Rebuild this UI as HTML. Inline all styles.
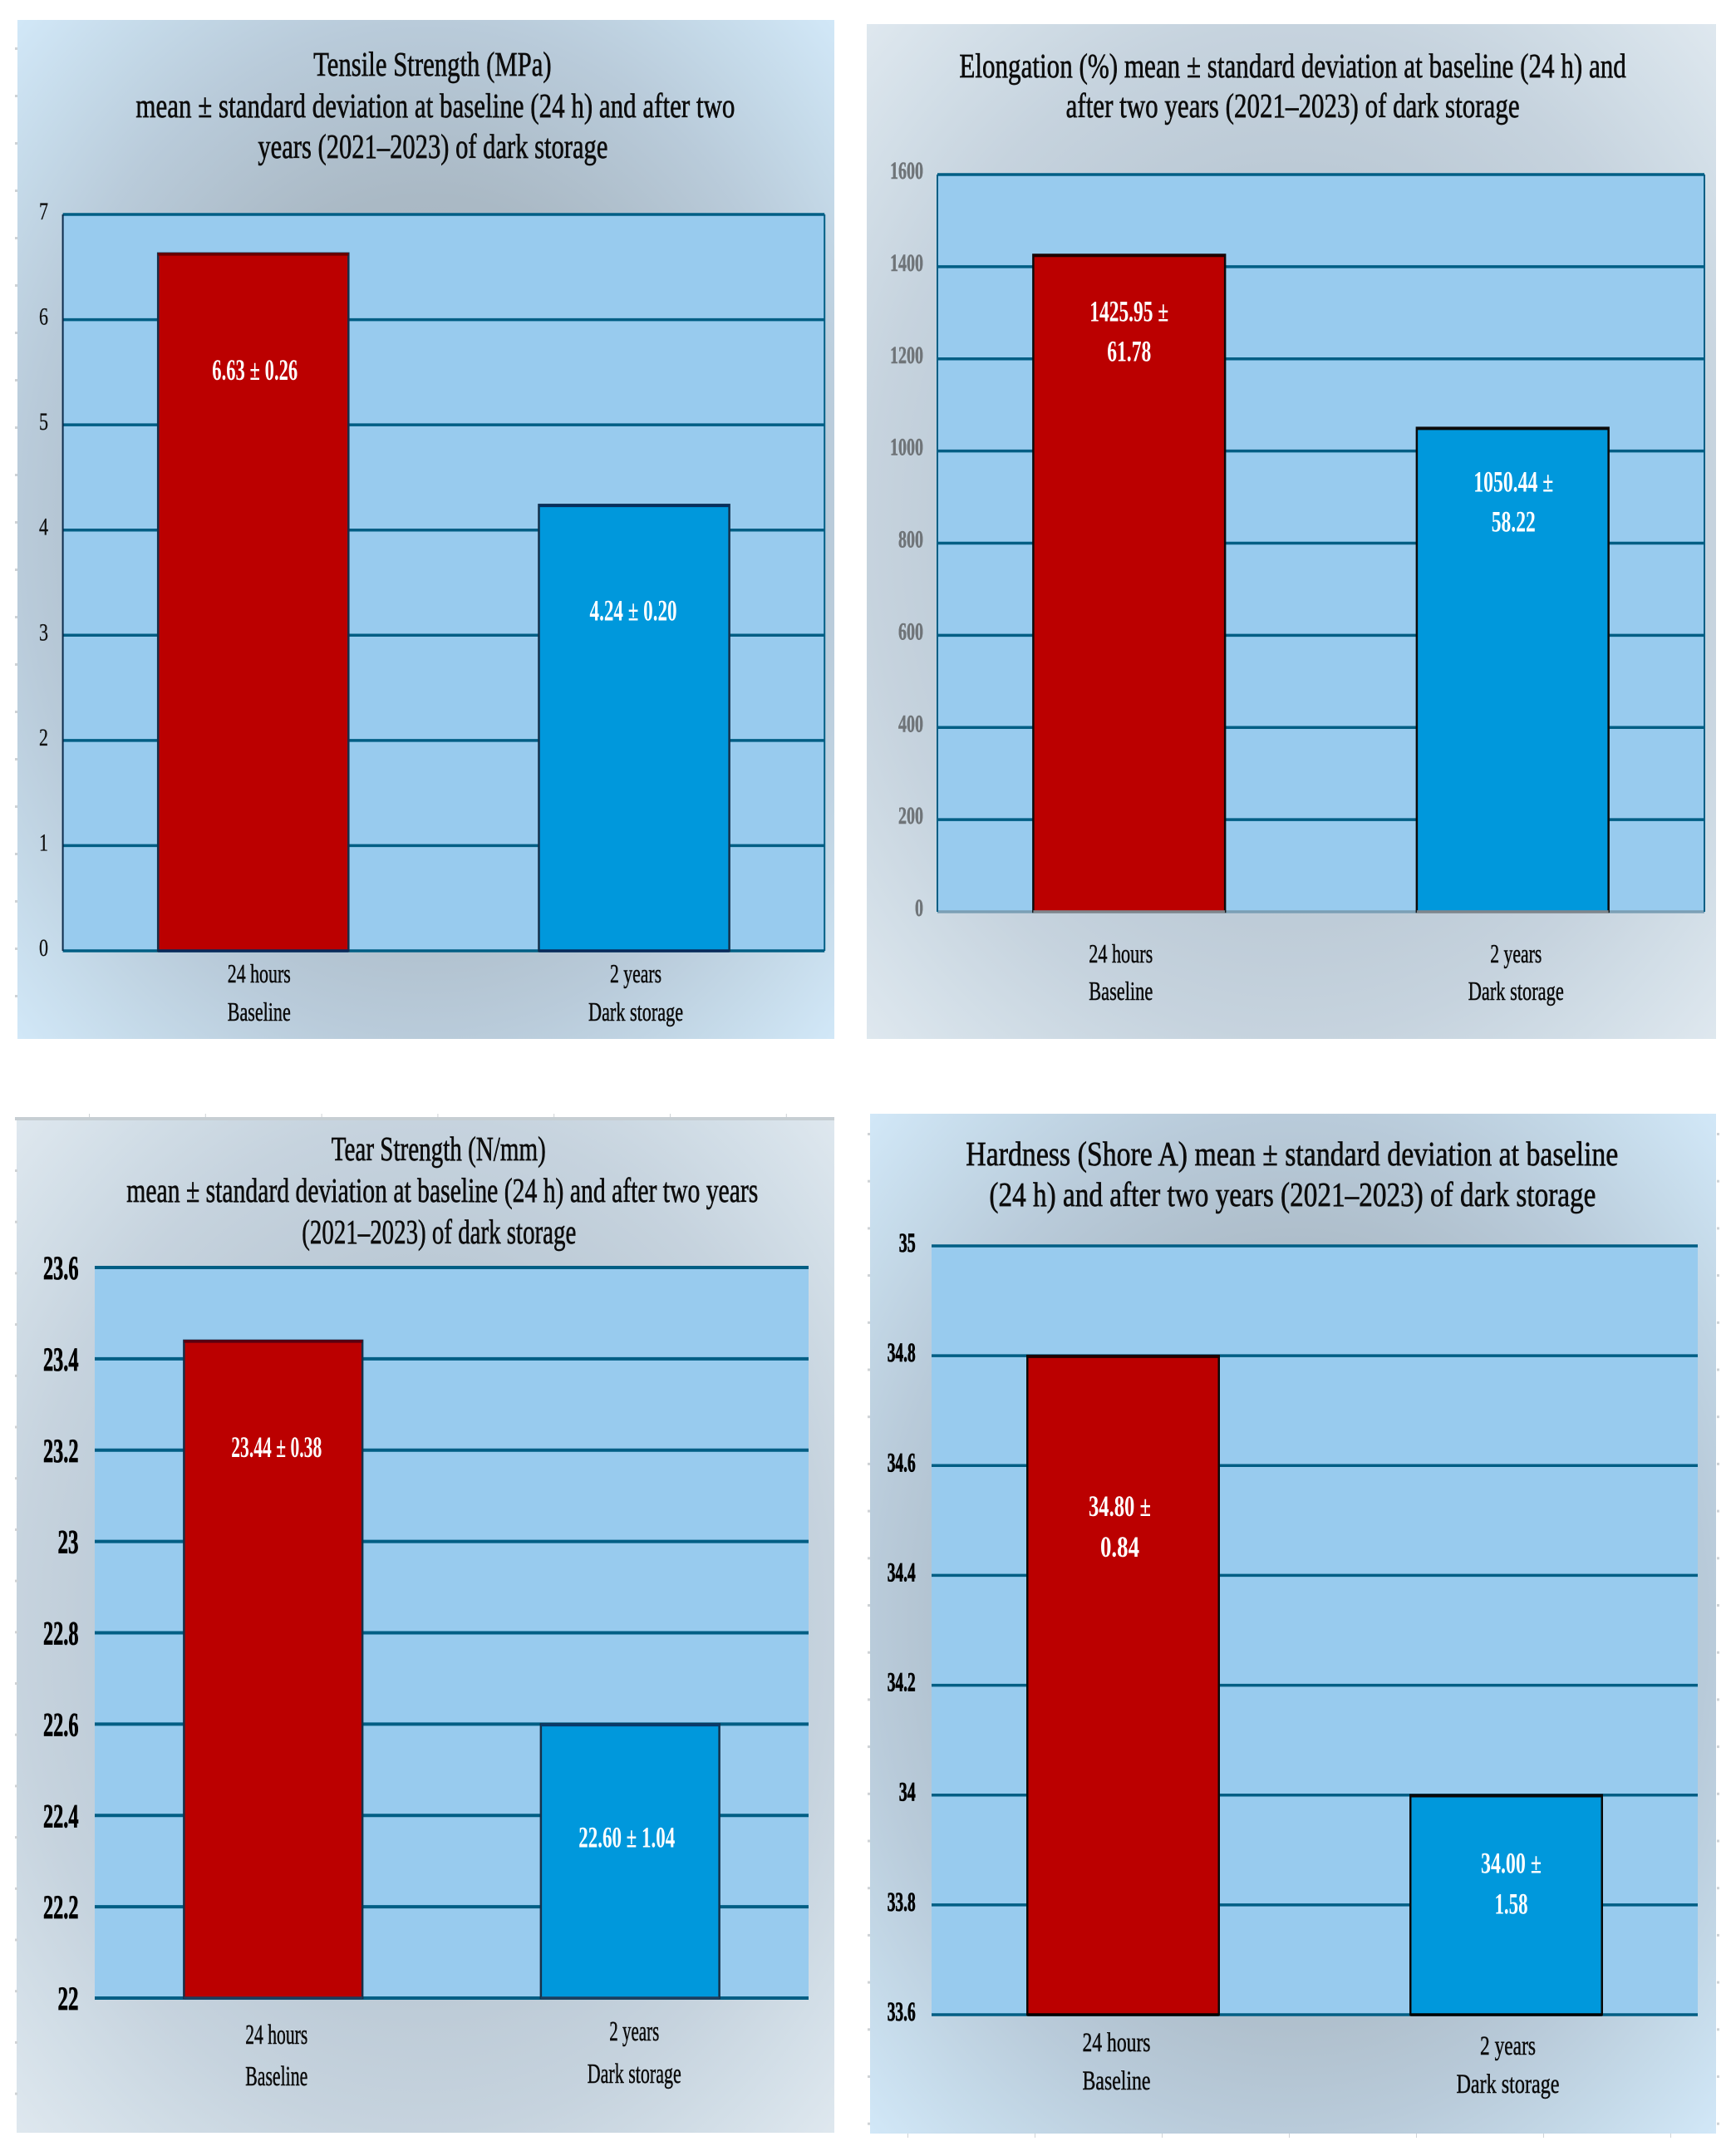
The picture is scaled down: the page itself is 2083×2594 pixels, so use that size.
<!DOCTYPE html>
<html lang="en">
<head>
<meta charset="utf-8">
<title>Silicone properties at baseline and after two years of dark storage</title>
<style>
  html, body { margin: 0; padding: 0; background: #ffffff; }
  svg { display: block; }
  text { font-family: "Liberation Serif", "DejaVu Serif", serif; }
  .title { font-size: 41px; fill: #0c0c0c; stroke: #0c0c0c; stroke-width: 0.65px; text-anchor: middle; }
</style>
</head>
<body>
<svg id="figure" xmlns="http://www.w3.org/2000/svg" width="2083" height="2594" viewBox="0 0 2083 2594">
  <defs>
    <radialGradient id="bgBlue" cx="0.5" cy="0.5" r="0.71">
      <stop offset="0" stop-color="#9fafbc"/>
      <stop offset="0.46" stop-color="#aab9c5"/>
      <stop offset="0.7" stop-color="#b9cbda"/>
      <stop offset="0.85" stop-color="#c5dae9"/>
      <stop offset="1" stop-color="#d2e8f8"/>
    </radialGradient>
    <radialGradient id="bgGrey" cx="0.5" cy="0.5" r="0.71">
      <stop offset="0" stop-color="#aebdcb"/>
      <stop offset="0.5" stop-color="#bccad6"/>
      <stop offset="0.7" stop-color="#c6d3de"/>
      <stop offset="0.85" stop-color="#d2dee7"/>
      <stop offset="1" stop-color="#dfe8ef"/>
    </radialGradient>
  </defs>

  <rect x="21" y="24" width="983" height="1226" fill="url(#bgBlue)"/>
  <rect x="1043" y="29" width="1022" height="1221" fill="url(#bgGrey)"/>
  <rect x="20" y="1344" width="984" height="1222" fill="url(#bgGrey)"/>
  <rect x="18" y="1344" width="986" height="4" fill="#c6ced3"/>
  <rect x="1047" y="1340" width="1018" height="1227" fill="url(#bgBlue)"/>

  <g id="rulers"></g>

  <g>
    <text class="title" x="520.4" y="91" textLength="286.5" lengthAdjust="spacingAndGlyphs">Tensile Strength (MPa)</text>
    <text class="title" x="523.9" y="141" textLength="721" lengthAdjust="spacingAndGlyphs">mean ± standard deviation at baseline (24 h) and after two</text>
    <text class="title" x="520.9" y="190" textLength="421" lengthAdjust="spacingAndGlyphs">years (2021–2023) of dark storage</text>
  </g>
  <g>
    <text class="title" x="1555.6" y="93" textLength="802.5" lengthAdjust="spacingAndGlyphs">Elongation (%) mean ± standard deviation at baseline (24 h) and</text>
    <text class="title" x="1555.6" y="141" textLength="546" lengthAdjust="spacingAndGlyphs">after two years (2021–2023) of dark storage</text>
  </g>
  <g>
    <text class="title" x="527.8" y="1396" textLength="258" lengthAdjust="spacingAndGlyphs">Tear Strength (N/mm)</text>
    <text class="title" x="532.3" y="1446" textLength="760" lengthAdjust="spacingAndGlyphs">mean ± standard deviation at baseline (24 h) and after two years</text>
    <text class="title" x="528.3" y="1496" textLength="330" lengthAdjust="spacingAndGlyphs">(2021–2023) of dark storage</text>
  </g>
  <g>
    <text class="title" x="1554.8" y="1402" textLength="785" lengthAdjust="spacingAndGlyphs">Hardness (Shore A) mean ± standard deviation at baseline</text>
    <text class="title" x="1555.4" y="1451" textLength="730" lengthAdjust="spacingAndGlyphs">(24 h) and after two years (2021–2023) of dark storage</text>
  </g>

  <g id="charts"></g>
</svg>

<script>
// Shared category labels
var categoryTimes = ['24 hours', '2 years'];
var categoryGroups = ['Baseline', 'Dark storage'];

// Tensile strength (MPa)
var tensileMeans = [6.63, 4.24];
var tensileDeviations = [0.26, 0.20];
var tensileTicks = ['0', '1', '2', '3', '4', '5', '6', '7'];

// Elongation (%)
var elongationMeans = [1425.95, 1050.44];
var elongationDeviations = [61.78, 58.22];
var elongationTicks = ['0', '200', '400', '600', '800', '1000', '1200', '1400', '1600'];

// Tear strength (N/mm)
var tearMeans = [23.44, 22.60];
var tearDeviations = [0.38, 1.04];
var tearTicks = ['22', '22.2', '22.4', '22.6', '22.8', '23', '23.2', '23.4', '23.6'];

// Hardness (Shore A)
var hardnessMeans = [34.80, 34.00];
var hardnessDeviations = [0.84, 1.58];
var hardnessTicks = ['33.6', '33.8', '34', '34.2', '34.4', '34.6', '34.8', '35'];

var NS = 'http://www.w3.org/2000/svg';

function svgEl(parent, tag, attrs) {
  var el = document.createElementNS(NS, tag);
  for (var k in attrs) { el.setAttribute(k, attrs[k]); }
  parent.appendChild(el);
  return el;
}

function fitText(parent, str, x, y, width, size, fill, extra) {
  var attrs = {
    x: x, y: y, 'font-size': size, fill: fill,
    textLength: width, lengthAdjust: 'spacingAndGlyphs', 'text-anchor': 'middle'
  };
  for (var k in extra) { attrs[k] = extra[k]; }
  var el = svgEl(parent, 'text', attrs);
  el.textContent = str;
  return el;
}

function drawChart(c) {
  var root = document.getElementById('charts');
  var g = svgEl(root, 'g', {});
  
  

  var tickValues = c.ticks.map(parseFloat);
  var lo = tickValues[0];
  var hi = tickValues[tickValues.length - 1];
  function yScale(v) { return c.bottom - (v - lo) / (hi - lo) * (c.bottom - c.top); }
  var band = (c.right - c.left) / c.means.length;
  function xScale(i) { return c.left + band * (i + 0.5); }

  var plot = svgEl(g, 'rect', { x: c.left, y: c.top, width: c.right - c.left, height: c.bottom - c.top, fill: '#98cbee' });
  
  

  c.ticks.forEach(function (label, i) {
    var y = yScale(tickValues[i]);
    var isBase = i === 0;
    var line = svgEl(g, 'line', {
      x1: c.left, x2: c.right, y1: y, y2: y,
      stroke: isBase && c.baseColor ? c.baseColor : '#005e84', 'stroke-width': c.gridWidth
    });
    
    

    var digits = label.replace('.', '').length;
    var dots = label.length - digits;
    var w = digits * c.tickDigit + dots * c.tickDot;
    var tick = fitText(g, label, c.tickRight - w / 2, y + c.tickDrop, w, c.tickSize, c.tickColor, {
      'font-weight': c.tickWeight,
      'stroke': c.tickColor,
      'stroke-width': c.tickStroke
    });
    
    
  });

  if (c.frame) {
    var leftEdge = svgEl(g, 'line', { x1: c.left, x2: c.left, y1: c.top, y2: c.bottom, stroke: c.frameLeft, 'stroke-width': 2 });
    
    
    var rightEdge = svgEl(g, 'line', { x1: c.right, x2: c.right, y1: c.top, y2: c.bottom, stroke: '#005e84', 'stroke-width': 2 });
    
    
  }

  c.means.forEach(function (v, i) {
    var cx = xScale(i);
    var bw = band / 2;
    var yTop = yScale(v);
    var bar = svgEl(g, 'rect', {
      x: cx - bw / 2, y: yTop, width: bw, height: c.bottom - yTop,
      fill: i === 0 ? '#bb0000' : '#0098dc',
      stroke: c.barStroke, 'stroke-width': 2.5
    });
    
    

    var cap = svgEl(g, 'line', {
      x1: cx - bw / 2, x2: cx + bw / 2, y1: yTop + 1, y2: yTop + 1,
      stroke: c.capColors[i], 'stroke-width': 3.5
    });
    
    

    var foot = svgEl(g, 'line', {
      x1: cx - bw / 2, x2: cx + bw / 2, y1: c.bottom, y2: c.bottom,
      stroke: c.footColor, 'stroke-width': 3.5
    });
    
    

    var mean = v.toFixed(2);
    var sd = c.deviations[i].toFixed(2);
    var vx = cx + c.valueShift[i];
    var vy = yTop + c.valueDrop[i];
    var extra = { 'font-weight': 'bold' };
    if (c.wrap) {
      var first = fitText(g, mean + ' ±', vx, vy, c.valueWidths[i][0], c.valueSize, '#ffffff', extra);
      
      
      var second = fitText(g, sd, vx, vy + c.valueGap, c.valueWidths[i][1], c.valueSize, '#ffffff', extra);
      
      
    } else {
      var single = fitText(g, mean + ' ± ' + sd, vx, vy, c.valueWidths[i][0], c.valueSize, '#ffffff', extra);
      
      
    }

    var lx = cx + c.catShift[i];
    var labelStyle = { stroke: '#0a0a0a', 'stroke-width': 0.5 };
    var time = fitText(g, categoryTimes[i], lx, c.catBase[i][0], c.catWidths[i][0], c.catSize, '#0a0a0a', labelStyle);
    
    
    var group = fitText(g, categoryGroups[i], lx, c.catBase[i][1], c.catWidths[i][1], c.catSize, '#0a0a0a', labelStyle);
    
    
  });
}

drawChart({
  name: 'tensile', means: tensileMeans, deviations: tensileDeviations, ticks: tensileTicks,
  left: 75.6, right: 992.2, top: 258, bottom: 1144, gridWidth: 3.5,
  frame: true, frameLeft: '#0c2c4c', barStroke: '#14304a', capColors: ['#6a0000', '#07305e'], footColor: '#0a2a5a',
  tickRight: 58, tickDrop: 6, tickDigit: 11, tickDot: 5, tickSize: 30, tickColor: '#111111', tickWeight: 'normal', tickStroke: 0.3,
  valueShift: [2, -1], valueDrop: [152, 139], valueWidths: [[103], [105]], valueSize: 36,
  catShift: [7, 2], catBase: [[1182, 1228], [1182, 1228]], catWidths: [[76, 76], [62, 114]], catSize: 32
});

drawChart({
  name: 'elongation', means: elongationMeans, deviations: elongationDeviations, ticks: elongationTicks,
  left: 1128, right: 2051, top: 210, bottom: 1097, gridWidth: 3.5, baseColor: '#7b9fb5',
  frame: true, frameLeft: '#005e84', barStroke: '#0a0a0a', capColors: ['#200000', '#0a0a0a'], footColor: '#80868c',
  tickRight: 1111, tickDrop: 5, tickDigit: 10, tickDot: 5, tickSize: 30, tickColor: '#6f7478', tickWeight: 'bold', tickStroke: 0.5,
  wrap: true, valueGap: 48, valueShift: [0, 1], valueDrop: [80, 77], valueWidths: [[95, 53], [96, 53]], valueSize: 36,
  catShift: [-10, 4], catBase: [[1158, 1203], [1158, 1203]], catWidths: [[77, 77], [62, 115]], catSize: 32
});

drawChart({
  name: 'tear', means: tearMeans, deviations: tearDeviations, ticks: tearTicks,
  left: 114, right: 973, top: 1525, bottom: 2404, gridWidth: 4,
  barStroke: '#14304a', capColors: ['#5a0010', '#0a3a6a'], footColor: '#1d3e5e',
  tickRight: 94.5, tickDrop: 14, tickDigit: 12.5, tickDot: 5, tickSize: 40, tickColor: '#000000', tickWeight: 'bold', tickStroke: 0.8,
  valueShift: [4, -4], valueDrop: [140, 148], valueWidths: [[109], [116]], valueSize: 36,
  catShift: [4, 5], catBase: [[2459, 2509], [2455, 2506]], catWidths: [[75, 75], [60, 113]], catSize: 34
});

drawChart({
  name: 'hardness', means: hardnessMeans, deviations: hardnessDeviations, ticks: hardnessTicks,
  left: 1121, right: 2043, top: 1499, bottom: 2424, gridWidth: 3.5,
  barStroke: '#0a0a0a', capColors: ['#200000', '#0a0a0a'], footColor: '#000000',
  tickRight: 1101.7, tickDrop: 7, tickDigit: 10, tickDot: 4, tickSize: 33, tickColor: '#000000', tickWeight: 'bold', tickStroke: 0.8,
  wrap: true, valueGap: 49, valueShift: [-4, 6], valueDrop: [193, 94], valueWidths: [[75, 47], [73, 40]], valueSize: 36,
  catShift: [-8, 2], catBase: [[2468, 2514], [2472, 2518]], catWidths: [[82, 82], [67, 124]], catSize: 33
});

// Faint ruler marks around the pasted panels (decoration, not data)
var rulers = document.getElementById('rulers');
function rulerTick(x, y, w, h) {
  var t = svgEl(rulers, 'rect', { x: x, y: y, width: w, height: h, fill: '#cfd3d6' });
  
  
}
for (var a = 1; a <= 21; a++) { rulerTick(18, 57 * a, 3, 3); }
for (var b = 0; b < 19; b++) { rulerTick(18, 1407 + 61.7 * b, 3, 3); }
for (var d = 0; d < 7; d++) { rulerTick(107 + 139.8 * d, 1340, 1, 4); }
for (var e = 0; e < 22; e++) {
  rulerTick(1044, 1363 + 56.7 * e, 3, 3);
  rulerTick(2066, 1363 + 56.7 * e, 3, 3);
}
for (var f = 0; f < 7; f++) { rulerTick(1092 + 153 * f, 2567, 1, 5); }
</script>
</body>
</html>
